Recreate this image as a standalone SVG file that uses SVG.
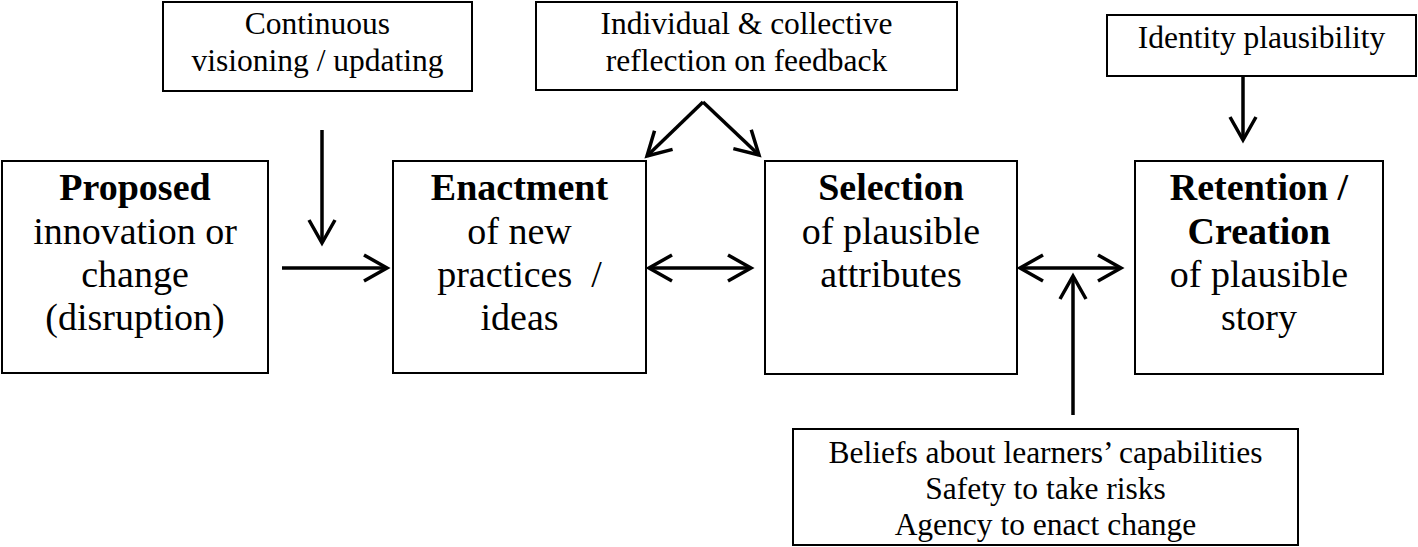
<svg xmlns="http://www.w3.org/2000/svg" width="1418" height="547" viewBox="0 0 1418 547">
<style>
.box{fill:#fff;stroke:#000;stroke-width:2}
.t{font-family:"Liberation Serif","Times New Roman",serif;fill:#000;text-anchor:middle;white-space:pre}
.m{font-size:38px}
.s{font-size:31.5px}
.b{font-weight:bold}
.c{stroke:#000;stroke-width:3.5;fill:none}
</style>
<defs>
<marker id="ah" markerUnits="userSpaceOnUse" markerWidth="40" markerHeight="40" refX="0" refY="0" viewBox="-30 -20 40 40" orient="auto-start-reverse" overflow="visible">
<path d="M-23,-13 L0,0 L-23,13" fill="none" stroke="#000" stroke-width="3.5"/>
</marker>
</defs>
<rect width="1418" height="547" fill="#fff"/>
<g id="proposed">
<rect class="box" x="2" y="161" width="266" height="212"/>
<text class="t m b" x="135" y="200">Proposed</text>
<text class="t m" x="135" y="244">innovation or</text>
<text class="t m" x="135" y="287">change</text>
<text class="t m" x="135" y="330">(disruption)</text>
</g>
<g id="enactment">
<rect class="box" x="393" y="161" width="253" height="212"/>
<text class="t m b" x="519.5" y="200">Enactment</text>
<text class="t m" x="519.5" y="244">of new</text>
<text class="t m" x="519.5" y="287">practices  /</text>
<text class="t m" x="519.5" y="330">ideas</text>
</g>
<g id="selection">
<rect class="box" x="765" y="161" width="252" height="213"/>
<text class="t m b" x="891" y="200">Selection</text>
<text class="t m" x="891" y="244">of plausible</text>
<text class="t m" x="891" y="287">attributes</text>
</g>
<g id="retention">
<rect class="box" x="1135" y="161" width="248" height="213"/>
<text class="t m b" x="1259" y="200">Retention /</text>
<text class="t m b" x="1259" y="244">Creation</text>
<text class="t m" x="1259" y="287">of plausible</text>
<text class="t m" x="1259" y="330">story</text>
</g>
<g id="visioning">
<rect class="box" x="163" y="2" width="309" height="89"/>
<text class="t s" x="317.5" y="34">Continuous</text>
<text class="t s" x="317.5" y="71">visioning / updating</text>
</g>
<g id="reflection">
<rect class="box" x="536" y="2" width="421" height="88"/>
<text class="t s" x="746.5" y="34">Individual &amp; collective</text>
<text class="t s" x="746.5" y="71">reflection on feedback</text>
</g>
<g id="identity">
<rect class="box" x="1107" y="15" width="309" height="61"/>
<text class="t s" x="1261.5" y="48">Identity plausibility</text>
</g>
<g id="beliefs">
<rect class="box" x="793" y="429" width="505" height="116"/>
<text class="t s" x="1045.5" y="463">Beliefs about learners’ capabilities</text>
<text class="t s" x="1045.5" y="499">Safety to take risks</text>
<text class="t s" x="1045.5" y="535">Agency to enact change</text>
</g>
<g id="connectors">
<line class="c" x1="322" y1="130" x2="322" y2="243" marker-end="url(#ah)"/>
<line class="c" x1="282" y1="268" x2="387" y2="268" marker-end="url(#ah)"/>
<line class="c" x1="649" y1="268" x2="751" y2="268" marker-start="url(#ah)" marker-end="url(#ah)"/>
<line class="c" x1="703" y1="102" x2="647" y2="156" marker-end="url(#ah)"/>
<line class="c" x1="703" y1="102" x2="759" y2="155" marker-end="url(#ah)"/>
<line class="c" x1="1243" y1="76" x2="1243" y2="140" marker-end="url(#ah)"/>
<line class="c" x1="1020" y1="268" x2="1121" y2="268" marker-start="url(#ah)" marker-end="url(#ah)"/>
<line class="c" x1="1073" y1="415" x2="1073" y2="276" marker-end="url(#ah)"/>
</g>
</svg>
